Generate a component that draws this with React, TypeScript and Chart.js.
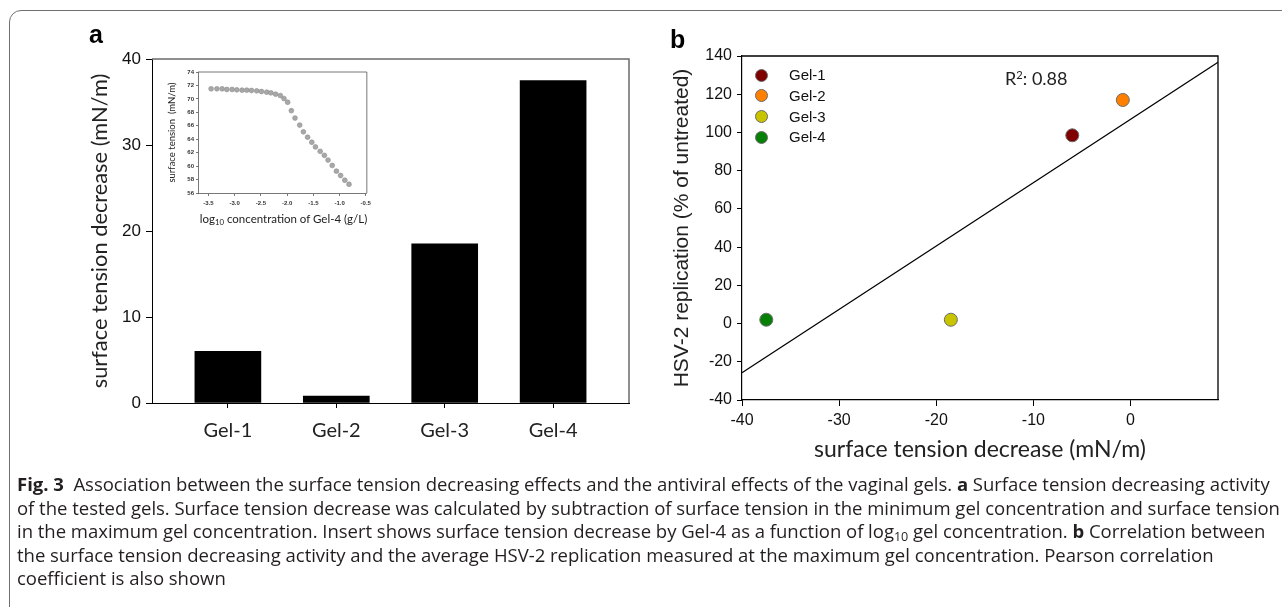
import React, { useEffect, useRef } from 'react';
import { Chart, registerables } from 'chart.js';

Chart.register(...registerables);

// ---------------- data ----------------
const gels = ['Gel-1', 'Gel-2', 'Gel-3', 'Gel-4'];
const tensionDecrease = [6.0, 0.8, 18.5, 37.5];
const barYTicks = [0, 10, 20, 30, 40];

const insetLogConc = [
  -3.45, -3.34, -3.24, -3.15, -3.05, -2.96, -2.86, -2.77, -2.68, -2.58, -2.49,
  -2.39, -2.31, -2.22, -2.13, -2.06, -1.99, -1.92, -1.85, -1.76, -1.69, -1.61,
  -1.53, -1.46, -1.37, -1.29, -1.22, -1.14, -1.06, -0.98, -0.9, -0.82,
];
const insetTension = [
  71.5, 71.5, 71.5, 71.4, 71.4, 71.35, 71.3, 71.3, 71.25, 71.2, 71.1,
  71.0, 70.9, 70.7, 70.5, 70.05, 69.5, 68.25, 67.15, 66.1, 65.1, 64.3,
  63.55, 62.85, 62.2, 61.6, 60.9, 60.1, 59.25, 58.6, 57.9, 57.3,
];
const insetXTicks = [-3.5, -3.0, -2.5, -2.0, -1.5, -1.0, -0.5];
const insetYTicks = [56, 58, 60, 62, 64, 66, 68, 70, 72, 74];

const corrX = [-6.0, -0.8, -18.5, -37.5];
const corrY = [98.5, 117, 2, 2];
const corrXTicks = [-40, -30, -20, -10, 0];
const corrYTicks = [-40, -20, 0, 20, 40, 60, 80, 100, 120, 140];
const corrR = '0.88';

const gelColors = ['#800000', '#ff8000', '#c9c400', '#078007'];

// ------------- helpers -------------
const frame = {
  id: 'frame',
  afterDatasetsDraw(chart: any, _a: any, opts: any) {
    const { ctx, chartArea: a } = chart;
    ctx.save();
    ctx.strokeStyle = opts.color || '#000';
    ctx.lineWidth = opts.width || 1;
    ctx.beginPath();
    ctx.moveTo(a.left, a.top);
    ctx.lineTo(a.right, a.top);
    ctx.lineTo(a.right, a.bottom);
    ctx.stroke();
    ctx.restore();
  },
};

function fixedTicks(values: number[]) {
  return (s: any) => {
    s.ticks = values.map((v) => ({ value: v }));
  };
}

function ChartBox(props: { left: number; top: number; width: number; height: number; make: () => any }) {
  const ref = useRef<HTMLCanvasElement>(null);
  useEffect(() => {
    const chart = new Chart(ref.current as HTMLCanvasElement, props.make());
    return () => chart.destroy();
  }, []);
  return (
    <div style={{ position: 'absolute', left: props.left, top: props.top, width: props.width, height: props.height }}>
      <canvas ref={ref} />
    </div>
  );
}

// ------------- configs -------------
function makeBar(): any {
  return {
    type: 'bar',
    data: {
      datasets: [
        {
          data: gels.map((_, i) => ({ x: i + 1, y: tensionDecrease[i] })),
          backgroundColor: '#000',
          borderWidth: 0,
          barThickness: 66,
        },
      ],
    },
    options: {
      animation: false,
      responsive: true,
      maintainAspectRatio: false,
      layout: { padding: { left: 0, top: 29, right: 31, bottom: 0 } },
      plugins: { legend: { display: false }, tooltip: { enabled: false }, frame: { color: '#6a6a6a', width: 1.5 } },
      scales: {
        x: {
          type: 'linear',
          min: 0.3,
          max: 4.7,
          offset: false,
          afterBuildTicks: fixedTicks(gels.map((_, i) => i + 1)),
          afterFit: (s: any) => { s.height = 47; },
          ticks: {
            callback: (v: any) => gels[Math.round(v) - 1],
            font: { family: 'Lato', size: 20 },
            color: '#222',
            padding: 11,
            maxRotation: 0,
            autoSkip: false,
          },
          grid: { display: true, offset: false, drawOnChartArea: false, drawTicks: true, tickLength: 5, color: '#000', lineWidth: 1 },
          border: { display: true, color: '#000', width: 1 },
        },
        y: {
          min: 0,
          max: 40,
          afterBuildTicks: fixedTicks(barYTicks),
          afterFit: (s: any) => { s.width = 92; },
          ticks: { font: { family: 'Liberation Sans', size: 17 }, color: '#111', padding: 5 },
          grid: { display: true, drawOnChartArea: false, drawTicks: true, tickLength: 6, color: '#000', lineWidth: 1 },
          border: { display: true, color: '#000', width: 1 },
          title: {
            display: true,
            text: 'surface tension decrease (mN/m)',
            font: { family: 'Lato', size: 21.8 },
            color: '#222',
            padding: { top: 27, bottom: 0 },
          },
        },
      },
    },
    plugins: [frame],
  };
}

function makeInset(): any {
  const tickFont = { family: 'Liberation Sans', size: 6, weight: 'bold' };
  return {
    type: 'scatter',
    data: {
      datasets: [
        {
          data: insetLogConc.map((x, i) => ({ x, y: insetTension[i] })),
          pointRadius: 2.4,
          backgroundColor: '#a8a8a8',
          borderColor: '#8c8c8c',
          borderWidth: 0.6,
        },
      ],
    },
    options: {
      animation: false,
      responsive: true,
      maintainAspectRatio: false,
      layout: { padding: { left: 0, top: 10, right: 7, bottom: 0 } },
      plugins: { legend: { display: false }, tooltip: { enabled: false }, frame: { color: '#555', width: 0.8 } },
      scales: {
        x: {
          type: 'linear',
          min: -3.7,
          max: -0.48,
          afterBuildTicks: fixedTicks(insetXTicks),
          afterFit: (s: any) => { s.height = 34; },
          ticks: { callback: (v: any) => Number(v).toFixed(1), font: tickFont, color: '#333', padding: 4, maxRotation: 0, autoSkip: false },
          grid: { display: true, drawOnChartArea: false, drawTicks: true, tickLength: 3, color: '#555', lineWidth: 0.8 },
          border: { display: true, color: '#555', width: 0.8 },
        },
        y: {
          min: 56,
          max: 74,
          afterBuildTicks: fixedTicks(insetYTicks),
          afterFit: (s: any) => { s.width = 48; },
          ticks: { font: tickFont, color: '#333', padding: 2, autoSkip: false },
          grid: { display: true, drawOnChartArea: false, drawTicks: true, tickLength: 2, color: '#555', lineWidth: 0.8 },
          border: { display: true, color: '#555', width: 0.8 },
          title: {
            display: true,
            text: 'surface tension  (mN/m)',
            font: { family: 'Lato', size: 9.5 },
            color: '#222',
            padding: { top: 16, bottom: 0 },
          },
        },
      },
    },
    plugins: [frame],
  };
}

function makeCorr(): any {
  const xMin = -40;
  const xMax = 9;
  const n = corrX.length;
  const mx = corrX.reduce((a, b) => a + b, 0) / n;
  const my = corrY.reduce((a, b) => a + b, 0) / n;
  let sxx = 0;
  let sxy = 0;
  for (let i = 0; i < n; i++) {
    sxx += (corrX[i] - mx) * (corrX[i] - mx);
    sxy += (corrX[i] - mx) * (corrY[i] - my);
  }
  const slope = sxy / sxx;
  const intercept = my - slope * mx;
  const fit = [xMin, xMax].map((x) => ({ x, y: intercept + slope * x }));
  const tickFont = { family: 'Liberation Sans', size: 16 };
  return {
    type: 'scatter',
    data: {
      datasets: [
        {
          type: 'line',
          label: 'fit',
          data: fit,
          borderColor: '#000',
          borderWidth: 1.2,
          pointRadius: 0,
          fill: false,
        },
        ...gels.map((g, i) => ({
          label: g,
          data: [{ x: corrX[i], y: corrY[i] }],
          backgroundColor: gelColors[i],
          borderColor: '#6b6b6b',
          borderWidth: 1,
          pointRadius: 6.5,
        })),
      ],
    },
    options: {
      animation: false,
      responsive: true,
      maintainAspectRatio: false,
      layout: { padding: { left: 0, top: 26, right: 42, bottom: 0 } },
      plugins: { legend: { display: false }, tooltip: { enabled: false }, frame: { color: '#000', width: 1.3 } },
      scales: {
        x: {
          type: 'linear',
          min: xMin,
          max: xMax,
          afterBuildTicks: fixedTicks(corrXTicks),
          afterFit: (s: any) => { s.height = 90; },
          ticks: { font: tickFont, color: '#111', padding: 5, maxRotation: 0, autoSkip: false },
          grid: { display: true, drawOnChartArea: false, drawTicks: true, tickLength: 6, color: '#000', lineWidth: 1 },
          border: { display: true, color: '#000', width: 1.2 },
          title: {
            display: true,
            text: 'surface tension decrease (mN/m)',
            font: { family: 'Lato', size: 23 },
            color: '#222',
            padding: { top: 0, bottom: 27 },
          },
        },
        y: {
          min: -40,
          max: 140,
          afterBuildTicks: fixedTicks(corrYTicks),
          afterFit: (s: any) => { s.width = 82; },
          ticks: { font: tickFont, color: '#111', padding: 5, autoSkip: false },
          grid: { display: true, drawOnChartArea: false, drawTicks: true, tickLength: 5, color: '#000', lineWidth: 1 },
          border: { display: true, color: '#000', width: 1.2 },
          title: {
            display: true,
            text: 'HSV-2 replication (% of untreated)',
            font: { family: 'Liberation Sans', size: 21 },
            color: '#222',
            padding: { top: 10, bottom: 0 },
          },
        },
      },
    },
    plugins: [frame],
  };
}

// ------------- app -------------
const abs = (left: number, top: number, extra: React.CSSProperties = {}): React.CSSProperties => ({
  position: 'absolute',
  left,
  top,
  whiteSpace: 'nowrap',
  ...extra,
});

export default function App() {
  const legendTop = 75;
  const legendStep = 20.7;
  const capStyle: React.CSSProperties = {
    fontFamily: '"Open Sans", sans-serif',
    fontSize: 18.55,
    lineHeight: '23.6px',
    color: '#231f20',
    whiteSpace: 'pre',
    letterSpacing: '-0.03px',
  };
  const sub: React.CSSProperties = { fontSize: '0.68em', verticalAlign: '-0.25em', lineHeight: 0 };
  return (
    <div style={{ position: 'absolute', left: 0, top: 0, width: 1282, height: 607, overflow: 'hidden', background: '#fff' }}>
      <div
        style={{
          position: 'absolute',
          left: 9,
          top: 10,
          width: 1320,
          height: 700,
          border: '1.4px solid #707070',
          borderRadius: 12,
          boxSizing: 'border-box',
        }}
      />
      <ChartBox left={60} top={30} width={600} height={420} make={makeBar} />
      <ChartBox left={150} top={62} width={225} height={165} make={makeInset} />
      <ChartBox left={660} top={30} width={600} height={460} make={makeCorr} />

      <div style={abs(89, 19, { fontFamily: 'Liberation Sans', fontWeight: 'bold', fontSize: 25, lineHeight: 1.2 })}>a</div>
      <div style={abs(670, 24, { fontFamily: 'Liberation Sans', fontWeight: 'bold', fontSize: 25, lineHeight: 1.2 })}>b</div>

      <div
        style={abs(150, 212, {
          width: 267,
          textAlign: 'center',
          fontFamily: 'Lato',
          fontSize: 11.5,
          lineHeight: 1.2,
          color: '#222',
        })}
      >
        log<span style={sub}>10</span> concentration of Gel-4 (g/L)
      </div>

      {gels.map((g, i) => {
        const cy = legendTop + i * legendStep;
        return (
          <React.Fragment key={g}>
            <div
              style={abs(754.5, cy - 6.5, {
                width: 13,
                height: 13,
                borderRadius: '50%',
                background: gelColors[i],
                border: '1px solid #6b6b6b',
                boxSizing: 'border-box',
              })}
            />
            <div style={abs(789, cy + 5.4 - 0.9465 * 15, { fontFamily: 'Liberation Sans', fontSize: 15, lineHeight: 1.2, color: '#111' })}>
              {g}
            </div>
          </React.Fragment>
        );
      })}

      <div style={abs(1005, 68.2, { fontFamily: 'Lato', fontSize: 18, lineHeight: 1.2, color: '#222' })}>
        R<sup style={{ fontSize: '0.62em', verticalAlign: '0.55em', lineHeight: 0 }}>2</sup>: {corrR}
      </div>

      <div style={abs(17, 472, capStyle)}>
        <div>
          <b>Fig. 3</b>{'  '}Association between the surface tension decreasing effects and the antiviral effects of the vaginal gels. <b>a</b> Surface tension decreasing activity
        </div>
        <div>
          of the tested gels. Surface tension decrease was calculated by subtraction of surface tension in the minimum gel concentration and surface tension
        </div>
        <div>
          in the maximum gel concentration. Insert shows surface tension decrease by Gel-4 as a function of log<span style={sub}>10</span> gel concentration. <b>b</b> Correlation between
        </div>
        <div>
          the surface tension decreasing activity and the average HSV-2 replication measured at the maximum gel concentration. Pearson correlation
        </div>
        <div>coefficient is also shown</div>
      </div>
    </div>
  );
}
